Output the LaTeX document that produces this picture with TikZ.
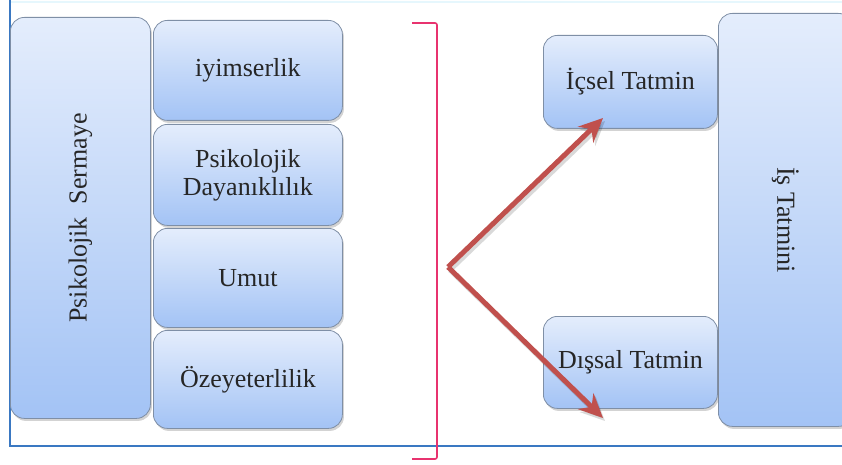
\documentclass[tikz,border=0pt]{standalone}
\usepackage{fontspec}
\setmainfont{Liberation Serif}
\newfontfamily\tnr{Liberation Serif}
\usetikzlibrary{shadows,arrows.meta}
\definecolor{boxtop}{HTML}{E4EDFC}
\definecolor{boxbot}{HTML}{A3C3F5}
\definecolor{boxline}{HTML}{7F8FA6}
\definecolor{arrred}{HTML}{C0504D}
\definecolor{frameblue}{HTML}{3A78C2}
\definecolor{brpink}{HTML}{E8336F}
\begin{document}
\begin{tikzpicture}[x=1pt,y=-1pt,
  txt/.style={font=\tnr\fontsize{26}{28}\selectfont, text=black!85},
  bluebox/.style={draw=boxline, line width=0.8pt, rounded corners=14pt,
    top color=boxtop, bottom color=boxbot, anchor=north west, inner sep=0pt,
    drop shadow={opacity=0.35, shadow xshift=1.5pt, shadow yshift=-2.5pt},
    txt, align=center},
  redarrow/.style={draw=arrred, line width=5pt,
    -{Stealth[length=24pt,width=22pt,inset=8pt]}},
  arrshadow/.style={draw=black, opacity=0.15, line width=5pt,
    -{Stealth[length=24pt,width=22pt,inset=8pt]}},
  frameline/.style={draw=frameblue, line width=2.4pt},
  bracket/.style={draw=brpink, line width=1.6pt, rounded corners=2pt}]
\useasboundingbox (0,0) rectangle (842,465);
% frame
\draw[draw=cyan!10, line width=1.5pt] (10,2) -- (842,2);
\draw[frameline] (10,0) -- (10,446) -- (842,446);
% left column
\node[bluebox, minimum width=140pt, minimum height=401pt,
  label={[rotate=90, txt]center:Psikolojik\ \ Sermaye}]
  (ps) at (10,17) {};
\node[bluebox, minimum width=189pt, minimum height=100pt] (iy) at (153,20) {iyimserlik};
\node[bluebox, minimum width=189pt, minimum height=101pt] (pd) at (153,124) {Psikolojik\\Dayanıklılık};
\node[bluebox, minimum width=189pt, minimum height=99pt] (um) at (153,228) {Umut};
\node[bluebox, minimum width=189pt, minimum height=98pt] (oz) at (153,330) {Özeyeterlilik};
% bracket
\draw[bracket] (412,23) -- (437,23) -- (437,459) -- (412,459);
% right column
\node[bluebox, minimum width=134pt, minimum height=413pt,
  label={[rotate=-90, txt]center:İş Tatmini}]
  (is) at (718,13) {};
\node[bluebox, minimum width=174pt, minimum height=93pt] (ic) at (543,35) {İçsel Tatmin};
\node[bluebox, minimum width=174pt, minimum height=92pt] (di) at (543,316) {Dışsal Tatmin};
% arrows
\coordinate (v) at (448,267);
\coordinate (ict) at (603,118);
\coordinate (dit) at (603,418);
\coordinate (vs) at (450,270);
\coordinate (icts) at (605,121);
\coordinate (dits) at (605,421);
\draw[arrshadow] (vs) -- (icts);
\draw[arrshadow] (vs) -- (dits);
\draw[redarrow] (v) -- (ict);
\draw[redarrow] (v) -- (dit);
\end{tikzpicture}
\end{document}
